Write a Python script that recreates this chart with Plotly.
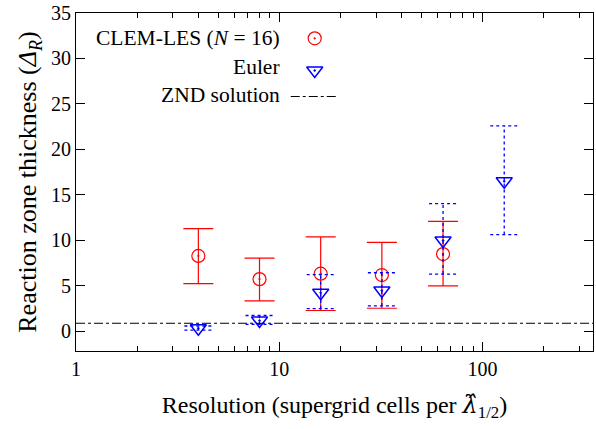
import plotly.graph_objects as go
import numpy as np

# ---- data ----
clem_x = [4, 8, 16, 32, 64]
clem_val = [8.3, 5.75, 6.35, 6.2, 8.5]
clem_hi = [11.3, 8.05, 10.4, 9.8, 12.1]
clem_lo = [5.25, 3.35, 2.3, 2.55, 5.0]

euler_x = [4, 8, 16, 32, 64, 128]
euler_val = [0.35, 1.2, 4.25, 4.5, 10.0, 16.5]
euler_hi = [0.6, 1.75, 6.25, 6.45, 14.05, 22.6]
euler_lo = [0.15, 0.78, 2.5, 2.8, 6.3, 10.65]

znd = 0.9

xtick_vals = [1, 10, 100]
xtick_text = ["1", "10", "100"]
ytick_vals = [0, 5, 10, 15, 20, 25, 30, 35]

FONT = "Liberation Serif"
RED = "#ff0000"
BLUE = "#0000ff"

fig = go.Figure()

fig.add_trace(go.Scatter(
    x=clem_x, y=clem_val, mode="markers",
    marker=dict(symbol="circle-open-dot", size=13, color=RED, line=dict(width=1.2, color=RED)),
    error_y=dict(type="data", symmetric=False,
                 array=[h - v for h, v in zip(clem_hi, clem_val)],
                 arrayminus=[v - l for l, v in zip(clem_lo, clem_val)],
                 color=RED, thickness=1.2, width=15),
    showlegend=False,
))

cap = 10 ** (14 / 203.6)
ex, ey = [], []
for x, lo, hi in zip(euler_x, euler_lo, euler_hi):
    ex += [x, x, None, x / cap, x * cap, None, x / cap, x * cap, None]
    ey += [lo, hi, None, lo, lo, None, hi, hi, None]
fig.add_trace(go.Scatter(x=ex, y=ey, mode="lines",
                         line=dict(color=BLUE, width=1.3, dash="dot"),
                         showlegend=False, hoverinfo="skip"))
fig.add_trace(go.Scatter(
    x=euler_x, y=euler_val, mode="markers",
    marker=dict(symbol="triangle-down-open-dot", size=14, color=BLUE, line=dict(width=1.5, color=BLUE)),
    showlegend=False,
))

fig.add_shape(type="line", xref="paper", x0=0, x1=1, yref="y", y0=znd, y1=znd,
              line=dict(color="black", width=1, dash="dashdot"))

# ---- custom legend ----
fig.add_trace(go.Scatter(x=[0.4617], y=[0.925], xaxis="x2", yaxis="y2", mode="markers",
                         marker=dict(symbol="circle-open-dot", size=13, color=RED, line=dict(width=1.2, color=RED)),
                         showlegend=False, hoverinfo="skip"))
fig.add_trace(go.Scatter(x=[0.4617], y=[0.83], xaxis="x2", yaxis="y2", mode="markers",
                         marker=dict(symbol="triangle-down-open-dot", size=14, color=BLUE, line=dict(width=1.5, color=BLUE)),
                         showlegend=False, hoverinfo="skip"))
fig.add_trace(go.Scatter(x=[0.4154, 0.506], y=[0.753, 0.753], xaxis="x2", yaxis="y2", mode="lines",
                         line=dict(color="black", width=1, dash="dashdot"),
                         showlegend=False, hoverinfo="skip"))
legend_labels = ["CLEM-LES (<i>N</i> = 16)", "Euler", "ZND solution"]
legend_y = [0.926, 0.839, 0.757]
for lab, ly in zip(legend_labels, legend_y):
    fig.add_annotation(x=0.398, y=ly, xref="paper", yref="paper", text=lab,
                       showarrow=False, xanchor="right", yanchor="middle",
                       font=dict(family=FONT, size=21.5, color="black"))

fig.update_layout(
    width=596, height=429,
    margin=dict(l=76, r=2, t=9, b=78),
    paper_bgcolor="white", plot_bgcolor="white",
    font=dict(family=FONT, size=20, color="black"),
    xaxis=dict(type="log", range=[0, np.log10(350)],
               tickvals=xtick_vals, ticktext=xtick_text,
               ticks="inside", ticklen=9, tickwidth=1, tickcolor="black",
               minor=dict(tickvals=[2, 3, 4, 5, 6, 7, 8, 9, 20, 30, 40, 50, 60, 70, 80, 90, 200, 300],
                          ticks="inside", ticklen=5, tickcolor="black", showgrid=False),
               showline=True, linecolor="black", linewidth=1, mirror="ticks",
               showgrid=False, zeroline=False,
               title=dict(text="Resolution (supergrid cells per <span style=\"font-family:'DejaVu Serif'\"><i>λ̂</i></span><sub>1/2</sub>)",
                          font=dict(family=FONT, size=24), standoff=17),
               tickfont=dict(family=FONT, size=20)),
    yaxis=dict(range=[-2.15, 35], tickvals=ytick_vals,
               ticks="inside", ticklen=9, tickwidth=1, tickcolor="black",
               showline=True, linecolor="black", linewidth=1, mirror="ticks",
               showgrid=False, zeroline=False, ticklabeloverflow="allow",
               title=dict(text="Reaction zone thickness (<i>Δ</i><sub><i>R</i></sub>)",
                          font=dict(family=FONT, size=26), standoff=6),
               tickfont=dict(family=FONT, size=20)),
    xaxis2=dict(overlaying="x", range=[0, 1], visible=False),
    yaxis2=dict(overlaying="y", range=[0, 1], visible=False),
)

fig.write_html("out.html")
